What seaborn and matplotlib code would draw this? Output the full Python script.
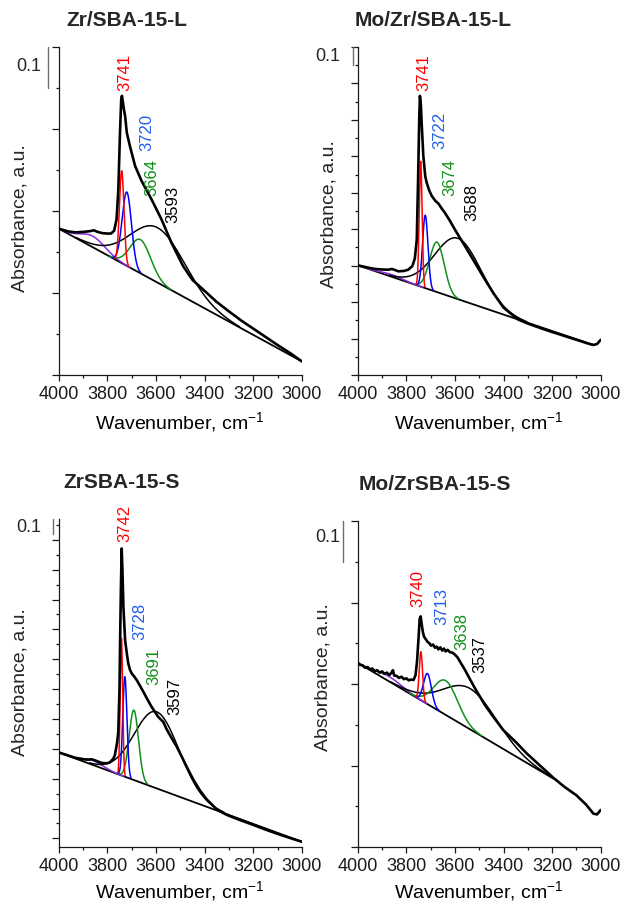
import numpy as np
import matplotlib
matplotlib.use("Agg")
import matplotlib.pyplot as plt
import matplotlib.transforms as mtransforms
from matplotlib.ticker import MultipleLocator
import seaborn as sns

sns.set_theme(style="ticks")
plt.rcParams["font.family"] = ["Liberation Sans", "DejaVu Sans"]
plt.rcParams["mathtext.fontset"] = "custom"
plt.rcParams["mathtext.rm"] = "Liberation Sans"
plt.rcParams["mathtext.it"] = "Liberation Sans:italic"
plt.rcParams["mathtext.bf"] = "Liberation Sans:bold"

# ---------------- data ----------------
titles = ["Zr/SBA-15-L", "Mo/Zr/SBA-15-L", "ZrSBA-15-S", "Mo/ZrSBA-15-S"]
x_ticks = [4000, 3800, 3600, 3400, 3200, 3000]
scale_value = 0.1

# measured OH-region spectra: wavenumber (cm-1) and absorbance
zr_l_wn = [4000, 3960, 3930, 3900, 3870, 3855, 3840, 3820, 3800, 3785, 3772, 3762,
           3755, 3748, 3743, 3740, 3736, 3732, 3727, 3720, 3707, 3686, 3659, 3618,
           3577, 3536, 3488, 3450, 3400, 3350, 3300, 3250, 3200, 3150, 3100, 3050, 3000]
zr_l_abs = [0.357, 0.350, 0.348, 0.349, 0.351, 0.353, 0.349, 0.346, 0.345, 0.345, 0.352, 0.380,
            0.450, 0.590, 0.672, 0.681, 0.665, 0.648, 0.632, 0.591, 0.558, 0.510, 0.473, 0.428,
            0.379, 0.322, 0.265, 0.232, 0.205, 0.178, 0.155, 0.133, 0.113, 0.093, 0.073, 0.054, 0.033]

mo_zr_l_wn = [4000, 3960, 3929, 3900, 3874, 3860, 3850, 3833, 3810, 3792, 3775, 3765,
              3757, 3751, 3747, 3744, 3740, 3737, 3730, 3722, 3716, 3705, 3695, 3680,
              3668, 3655, 3641, 3620, 3600, 3558, 3517, 3476, 3442, 3400, 3373, 3340,
              3305, 3270, 3236, 3200, 3167, 3130, 3099, 3060, 3040, 3030, 3015, 3000]
mo_zr_l_abs = [0.602, 0.590, 0.582, 0.579, 0.578, 0.582, 0.578, 0.569, 0.571, 0.578, 0.598, 0.640,
               0.743, 1.110, 1.400, 1.532, 1.480, 1.386, 1.202, 1.090, 1.055, 1.010, 0.982, 0.955,
               0.941, 0.915, 0.890, 0.845, 0.798, 0.706, 0.615, 0.523, 0.450, 0.370, 0.340, 0.305,
               0.285, 0.268, 0.252, 0.236, 0.222, 0.206, 0.193, 0.176, 0.168, 0.165, 0.170, 0.193]

zr_s_wn = [4000, 3960, 3933, 3900, 3878, 3865, 3850, 3823, 3800, 3789, 3775, 3769,
           3760, 3755, 3750, 3748, 3744, 3741, 3738, 3734, 3727, 3720, 3714, 3707,
           3700, 3690, 3679, 3665, 3652, 3635, 3618, 3591, 3570, 3556, 3535, 3515,
           3495, 3474, 3447, 3419, 3392, 3351, 3310, 3282, 3255, 3200, 3145, 3100, 3050, 3000]
zr_s_abs = [0.576, 0.555, 0.540, 0.530, 0.527, 0.530, 0.522, 0.505, 0.503, 0.510, 0.535, 0.558,
            0.640, 0.714, 1.000, 1.273, 1.700, 1.942, 1.800, 1.551, 1.328, 1.240, 1.172, 1.130,
            1.105, 1.085, 1.060, 1.020, 0.982, 0.930, 0.881, 0.814, 0.780, 0.730, 0.670, 0.615,
            0.550, 0.480, 0.395, 0.320, 0.262, 0.195, 0.158, 0.140, 0.123, 0.090, 0.056, 0.030, 0.003, -0.023]

mo_zr_s_wn = [4000, 3990, 3980, 3970, 3960, 3950, 3940, 3930, 3920, 3910, 3900, 3890,
              3880, 3870, 3862, 3855, 3850, 3840, 3830, 3820, 3810, 3800, 3790, 3780,
              3770, 3762, 3756, 3750, 3745, 3741, 3737, 3732, 3727, 3720, 3712, 3705,
              3698, 3690, 3682, 3675, 3668, 3660, 3652, 3645, 3638, 3630, 3620, 3610,
              3600, 3590, 3580, 3570, 3558, 3540, 3517, 3476, 3440, 3401, 3350, 3305,
              3250, 3195, 3150, 3100, 3060, 3030, 3015, 3000]
mo_zr_s_abs = [0.452, 0.447, 0.446, 0.440, 0.442, 0.436, 0.438, 0.431, 0.434, 0.428, 0.431, 0.425,
               0.428, 0.422, 0.427, 0.434, 0.421, 0.420, 0.415, 0.418, 0.412, 0.414, 0.409, 0.411,
               0.410, 0.422, 0.455, 0.510, 0.560, 0.566, 0.548, 0.528, 0.516, 0.510, 0.503, 0.500,
               0.494, 0.497, 0.489, 0.492, 0.485, 0.490, 0.482, 0.487, 0.480, 0.484, 0.478, 0.477,
               0.472, 0.466, 0.456, 0.446, 0.434, 0.414, 0.389, 0.348, 0.318, 0.287, 0.258, 0.230,
               0.200, 0.170, 0.148, 0.127, 0.104, 0.082, 0.080, 0.091]

# straight baselines (end points)
zr_l_base_wn, zr_l_base_abs = [4000, 3000], [0.357, 0.033]
mo_zr_l_base_wn, mo_zr_l_base_abs = [4000, 3030], [0.602, 0.165]
zr_s_base_wn, zr_s_base_abs = [4000, 3000], [0.576, -0.023]
mo_zr_s_base_wn, mo_zr_s_base_abs = [4000, 3195], [0.452, 0.168]

# Gaussian bands of the deconvolution: centre (cm-1), height above baseline, FWHM (cm-1)
# order: isolated Si-OH, second OH, third OH, H-bonded OH, high-frequency band
zr_l_centres, zr_l_heights, zr_l_fwhm = [3741, 3720, 3664, 3593, 3860], [0.225, 0.180, 0.082, 0.134, 0.027], [22, 45, 100, 264, 120]
mo_zr_l_centres, mo_zr_l_heights, mo_zr_l_fwhm = [3741, 3722, 3674, 3588, 3860], [0.687, 0.400, 0.274, 0.334, 0.012], [14, 26, 70, 223, 100]
zr_s_centres, zr_s_heights, zr_s_fwhm = [3742, 3728, 3691, 3597, 3860], [0.919, 0.670, 0.468, 0.513, 0.030], [12, 20, 45, 217, 100]
mo_zr_s_centres, mo_zr_s_heights, mo_zr_s_fwhm = [3740, 3713, 3638, 3537, 3870], [0.119, 0.075, 0.084, 0.100, 0.012], [16, 38, 116, 257, 120]

# ---------------- styling / layout ----------------
band_colors = ["#ff0000", "#0000ff", "#10901a", "#000000", "#8a2be2"]
label_colors = ["#ff0000", "#1f5fe8", "#10901a", "#000000"]

panels = [
    dict(wn=zr_l_wn, ab=zr_l_abs, bwn=zr_l_base_wn, bab=zr_l_base_abs,
         c=zr_l_centres, h=zr_l_heights, w=zr_l_fwhm,
         rect=[0.0942, 0.5838, 0.3905, 0.3640], ylim=(0, 0.8),
         lab_x=[3727, 3636, 3618, 3529], lab_y=[0.693, 0.546, 0.436, 0.371],
         bar_x=-0.044, txt=(-0.123, 0.752), ylab=(-0.159, 0.48),
         title=(127, 20), xlab_y=-0.108),
    dict(wn=mo_zr_l_wn, ab=mo_zr_l_abs, bwn=mo_zr_l_base_wn, bab=mo_zr_l_base_abs,
         c=mo_zr_l_centres, h=mo_zr_l_heights, w=mo_zr_l_fwhm,
         rect=[0.5742, 0.5838, 0.3900, 0.3640], ylim=(0, 1.8),
         lab_x=[3730, 3661, 3620, 3531], lab_y=[1.560, 1.239, 0.982, 0.844],
         bar_x=-0.018, txt=(-0.124, 1.748), ylab=(-0.118, 0.49),
         title=(433, 20), xlab_y=-0.108),
    dict(wn=zr_s_wn, ab=zr_s_abs, bwn=zr_s_base_wn, bab=zr_s_base_abs,
         c=zr_s_centres, h=zr_s_heights, w=zr_s_fwhm,
         rect=[0.0942, 0.0599, 0.3905, 0.3640], ylim=(-0.058, 2.139),
         lab_x=[3727, 3666, 3611, 3522], lab_y=[1.987, 1.328, 1.027, 0.826],
         bar_x=-0.022, txt=(-0.121, 2.082), ylab=(-0.161, 0.503),
         title=(122, 483), xlab_y=-0.097),
    dict(wn=mo_zr_s_wn, ab=mo_zr_s_abs, bwn=mo_zr_s_base_wn, bab=mo_zr_s_base_abs,
         c=mo_zr_s_centres, h=mo_zr_s_heights, w=mo_zr_s_fwhm,
         rect=[0.5742, 0.0599, 0.3900, 0.3618], ylim=(0, 0.8),
         lab_x=[3751, 3654, 3572, 3497], lab_y=[0.589, 0.544, 0.483, 0.426],
         bar_x=-0.059, txt=(-0.124, 0.759), ylab=(-0.142, 0.52),
         title=(435, 485), xlab_y=-0.097),
]

W, H = 623, 901
fig = plt.figure(figsize=(W / 100, H / 100), dpi=100)
axis_color = "#1a1a1a"


def gaussian_band(centre, height, fwhm, base_wn, base_abs):
    sigma = fwhm / 2.3548
    hi = min(base_wn[0], centre + 3 * sigma)
    lo = max(base_wn[-1], centre - 3 * sigma)
    wn = np.linspace(hi, lo, 400)
    base = np.interp(wn, base_wn[::-1], base_abs[::-1])
    return wn, base + height * np.exp(-0.5 * ((wn - centre) / sigma) ** 2)


for i, p in enumerate(panels):
    ax = fig.add_axes(p["rect"])
    ax.set_facecolor("none")

    # baseline
    sns.lineplot(x=p["bwn"], y=p["bab"], ax=ax, color="black", linewidth=1.3,
                 estimator=None, sort=False, legend=False, zorder=2)
    # deconvoluted bands (draw the broad ones first)
    for k in [4, 3, 2, 1, 0]:
        bw, by = gaussian_band(p["c"][k], p["h"][k], p["w"][k],
                               np.array(p["bwn"], float), np.array(p["bab"], float))
        sns.lineplot(x=bw, y=by, ax=ax, color=band_colors[k], linewidth=1.1,
                     estimator=None, sort=False, legend=False, zorder=3)
    # measured spectrum
    sns.lineplot(x=p["wn"], y=p["ab"], ax=ax, color="black", linewidth=1.9,
                 estimator=None, sort=False, legend=False, zorder=4)

    # band position labels
    for k in range(4):
        ax.text(p["lab_x"][k], p["lab_y"][k], str(p["c"][k]), rotation=90,
                color=label_colors[k], fontsize=12, ha="center", va="bottom",
                zorder=5)

    ax.set_xlim(4000, 3000)
    ax.set_ylim(*p["ylim"])
    ax.set_xticks(x_ticks)
    ax.xaxis.set_minor_locator(MultipleLocator(100))
    ax.yaxis.set_major_locator(MultipleLocator(0.2))
    ax.yaxis.set_minor_locator(MultipleLocator(0.1))
    ax.tick_params(axis="x", which="major", direction="out", length=4, width=0.9,
                   labelsize=13, pad=4, colors=axis_color)
    ax.tick_params(axis="x", which="minor", direction="out", length=2.5, width=0.9,
                   colors=axis_color)
    ax.tick_params(axis="y", which="major", direction="out", length=4.8, width=0.9,
                   labelleft=False, colors=axis_color)
    ax.tick_params(axis="y", which="minor", direction="out", length=2.0, width=0.9,
                   colors=axis_color)
    for side in ["top", "right"]:
        ax.spines[side].set_visible(False)
    for side in ["left", "bottom"]:
        ax.spines[side].set_color(axis_color)
        ax.spines[side].set_linewidth(0.9)
    ax.set_ylabel("")
    ax.set_xlabel("Wavenumber, cm$^{-1}$", fontsize=14, color="black")
    ax.xaxis.set_label_coords(0.5, p["xlab_y"])
    ax.text(p["ylab"][0], p["ylab"][1], "Absorbance, a.u.", transform=ax.transAxes,
            rotation=90, ha="center", va="center", fontsize=14)

    # 0.1 absorbance scale bar
    trans = mtransforms.blended_transform_factory(ax.transAxes, ax.transData)
    ytop = p["ylim"][1]
    ax.plot([p["bar_x"], p["bar_x"]], [ytop, ytop - scale_value], transform=trans,
            clip_on=False, color="#6e6e6e", linewidth=1.0)
    ax.text(p["txt"][0], p["txt"][1], f"{scale_value:.1f}", transform=trans,
            ha="center", va="center", fontsize=13)

    fig.text(p["title"][0] / W, 1 - p["title"][1] / H, titles[i], ha="center",
             va="center", fontsize=15, fontweight="bold")

fig.savefig("out.png", dpi=100)
